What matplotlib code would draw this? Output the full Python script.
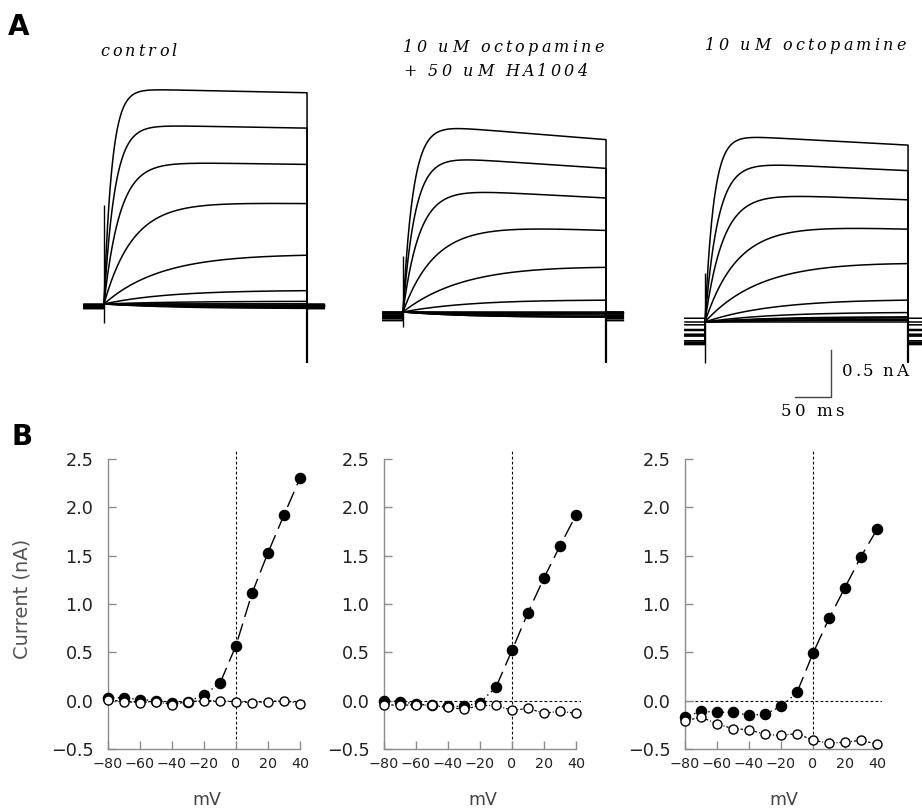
import numpy as np
import matplotlib
matplotlib.use("Agg")
import matplotlib.pyplot as plt

W, H = 922, 809

# test potentials (mV)
volt = [-80, -70, -60, -50, -40, -30, -20, -10, 0, 10, 20, 30, 40]

# I-V data (nA)
ctrl_filled = [0.03, 0.03, 0.01, 0.00, -0.02, -0.01, 0.06, 0.18, 0.57, 1.11, 1.53, 1.92, 2.30]
ctrl_open = [0.01, -0.01, -0.02, -0.01, -0.04, -0.01, 0.00, 0.00, -0.01, -0.02, -0.01, 0.00, -0.03]
ha_filled = [0.00, -0.01, -0.035, -0.05, -0.06, -0.06, -0.02, 0.14, 0.52, 0.91, 1.27, 1.60, 1.92]
ha_open = [-0.04, -0.05, -0.04, -0.05, -0.07, -0.09, -0.05, -0.05, -0.10, -0.08, -0.13, -0.11, -0.13]
oct_filled = [-0.17, -0.11, -0.12, -0.12, -0.15, -0.14, -0.06, 0.085, 0.49, 0.85, 1.17, 1.49, 1.77]
oct_open = [-0.21, -0.17, -0.24, -0.29, -0.30, -0.35, -0.36, -0.34, -0.41, -0.44, -0.43, -0.41, -0.45]

# activation time constants in panel A (ms)
ctrl_tau = [100, 100, 100, 100, 100, 100, 100, 90, 80, 40, 22, 15, 11]
ha_tau = [100, 100, 100, 100, 100, 100, 100, 100, 90, 45, 23, 17, 14]
oct_tau = [100, 100, 100, 100, 100, 100, 100, 100, 80, 45, 25, 18, 12]

# fractional decay over the pulse, capacity spikes (nA)
decay = [0.02, 0.09, 0.06]
spike_on_up = [1.05, 0.60, 0.52]
spike_on_down = [-0.20, -0.16, -0.44]
spike_off_down = [-0.63, -0.54, -0.44]

titles = [["control"], ["10 uM octopamine", "+ 50 uM HA1004"], ["10 uM octopamine"]]

# layout of panel A (ms / nA in trace axes)
px_ms = 0.72
px_na = 94.0
starts = [104 / px_ms, 403 / px_ms, 705 / px_ms]
bases = [(420 - 304) / px_na, (420 - 312) / px_na, (420 - 322) / px_na]
T = 282.0
pre = 28.0
post = 24.0

fig = plt.figure(figsize=(W / 100, H / 100), dpi=100)
renderer = fig.canvas.get_renderer()


def spaced(x, y, s, track, **kw):
    # letter spaced text, x = left edge, y = centre, both in pixels
    size = kw.get("fontsize", 12)
    for ch in s:
        if ch == " ":
            x += size * 1.389 * 0.32 + track
            continue
        t = fig.text(x / W, 1 - y / H, ch, ha="left", va="center", **kw)
        x += t.get_window_extent(renderer).width + track


# ---------- panel A ----------
axa = fig.add_axes([0, 1 - 420 / H, 1, 420 / H])
axa.set_xlim(0, W / px_ms)
axa.set_ylim(0, 420 / px_na)
axa.axis("off")

t = np.linspace(0, T, 500)
panels = [(ctrl_filled, ctrl_open, ctrl_tau), (ha_filled, ha_open, ha_tau), (oct_filled, oct_open, oct_tau)]
for k, (fil, opn, tau) in enumerate(panels):
    s0 = starts[k]
    b = bases[k]
    for j in range(len(volt)):
        amp = fil[j] - fil[0]
        lev = b + (opn[j] - opn[0])
        cur = b + amp * (1 - np.exp(-t / tau[j])) * (1 - decay[k] * (t / T - 0.5))
        xs = np.concatenate([[s0 - pre, s0], s0 + t, [s0 + T, s0 + T + post]])
        ys = np.concatenate([[lev, lev], cur, [lev, lev]])
        axa.plot(xs, ys, color="black", lw=1.1)
    axa.vlines(s0, b + spike_on_down[k], b + spike_on_up[k], color="black", lw=1.0)
    axa.vlines(s0 + T, b + spike_off_down[k], b, color="black", lw=1.6)

# scale bar 50 ms / 0.5 nA
sx = 831 / px_ms
sy = (420 - 397) / px_na
axa.plot([sx - 50, sx, sx], [sy, sy, sy + 0.5], color="#444444", lw=1.0)

fig.text(19 / W, 1 - 27 / H, "A", fontsize=20, fontweight="bold", ha="center", va="center")
title_kw = dict(fontsize=11.5, family="DejaVu Serif", style="italic")
spaced(100, 51, titles[0][0], 3.2, **title_kw)
spaced(403, 47, titles[1][0], 3.3, **title_kw)
spaced(403, 72, titles[1][1], 3.3, **title_kw)
spaced(705, 45, titles[2][0], 3.3, **title_kw)
spaced(842, 371, "0.5 nA", 2.3, fontsize=12, family="DejaVu Serif")
spaced(781, 412, "50 ms", 3.0, fontsize=12, family="DejaVu Serif")

# ---------- panel B ----------
fig.text(22 / W, 1 - 437 / H, "B", fontsize=20, fontweight="bold", ha="center", va="center")

lefts = [108 / W, 384 / W, 685 / W]
bottom = 1 - 749 / H
ylo, yhi = -0.5, 2.6
xlo, xhi = -80, 43
height = (yhi - ylo) * 96.7 / H
width = (xhi - xlo) * 1.6 / W
split_v = -10
spine_col = "#8c8c8c"

for k, (fil, opn, tau) in enumerate(panels):
    ax = fig.add_axes([lefts[k], bottom, width, height])
    ax.set_xlim(xlo, xhi)
    ax.set_ylim(ylo, yhi)
    for s in ["top", "right"]:
        ax.spines[s].set_visible(False)
    ax.spines["left"].set_bounds(-0.5, 2.5)
    ax.spines["bottom"].set_bounds(-80, 40)
    for s in ["left", "bottom"]:
        ax.spines[s].set_color(spine_col)
        ax.spines[s].set_linewidth(1.0)
    ax.set_yticks([-0.5, 0.0, 0.5, 1.0, 1.5, 2.0, 2.5])
    ax.set_yticklabels([f"{v:.1f}".replace("-", "\u2212") for v in ax.get_yticks()])
    ax.set_xticks([-80, -60, -40, -20, 0, 20, 40])
    ax.tick_params(axis="both", direction="in", length=6, width=1, color=spine_col, labelcolor="#222222")
    ax.tick_params(axis="y", pad=10.5, labelsize=12.7)
    ax.tick_params(axis="x", pad=6, labelsize=10.3)

    ax.axvline(0, color="black", lw=0.8, ls=(0, (2.5, 2)), zorder=1)
    ax.axhline(0, color="black", lw=0.8, ls=(0, (2.5, 2)), zorder=1)

    v = np.array(volt)
    f = np.array(fil)
    lo = v <= split_v
    hi = v >= split_v
    ax.plot(v[lo], f[lo], color="black", lw=1.0, ls=(0, (1, 2.5)), zorder=2)
    ax.plot(v[hi], f[hi], color="black", lw=1.0, ls=(0, (12, 5)), zorder=2)
    ax.plot(v, opn, color="black", lw=0.9, ls=(0, (2, 1.5, 0.8, 1.5)), zorder=2)
    ax.plot(v, fil, "o", color="black", ms=7.3, clip_on=False, zorder=3)
    ax.plot(v, opn, "o", mfc="white", mec="black", mew=1.0, ms=6.5, clip_on=False, zorder=4)

    ax.set_xlabel("mV", fontsize=12.5, color="#444444", labelpad=14.5)
    if k == 0:
        ax.set_ylabel("Current (nA)", fontsize=14, color="#555555", labelpad=14)

fig.savefig("out.png", dpi=100)
